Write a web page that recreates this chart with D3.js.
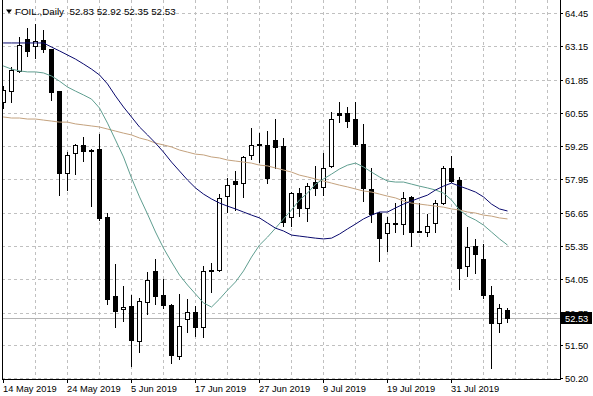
<!DOCTYPE html>
<html>
<head>
<meta charset="utf-8">
<script src="https://cdn.jsdelivr.net/npm/d3@7"></script>
<style>
	body { margin: 0; background: #fff; }
	svg { display: block; }
</style>
</head>
<body>
<div id="chart"></div>
<script>
// FOIL daily candles, 14 May - 9 Aug 2019, with three moving averages

const symbol = 'FOIL.';
const period = 'Daily';

const dates = [
	'2019-05-14', '2019-05-15', '2019-05-16', '2019-05-17', '2019-05-20', '2019-05-21', '2019-05-22', '2019-05-23',
	'2019-05-24', '2019-05-27', '2019-05-28', '2019-05-29', '2019-05-30', '2019-05-31', '2019-06-03', '2019-06-04',
	'2019-06-05', '2019-06-06', '2019-06-07', '2019-06-10', '2019-06-11', '2019-06-12', '2019-06-13', '2019-06-14',
	'2019-06-17', '2019-06-18', '2019-06-19', '2019-06-20', '2019-06-21', '2019-06-24', '2019-06-25', '2019-06-26',
	'2019-06-27', '2019-06-28', '2019-07-01', '2019-07-02', '2019-07-03', '2019-07-04', '2019-07-05', '2019-07-08',
	'2019-07-09', '2019-07-10', '2019-07-11', '2019-07-12', '2019-07-15', '2019-07-16', '2019-07-17', '2019-07-18',
	'2019-07-19', '2019-07-22', '2019-07-23', '2019-07-24', '2019-07-25', '2019-07-26', '2019-07-29', '2019-07-30',
	'2019-07-31', '2019-08-01', '2019-08-02', '2019-08-05', '2019-08-06', '2019-08-07', '2019-08-08', '2019-08-09'
];

const opens = [
	60.94, 61.37, 62.15, 63.40, 63.16, 63.36, 63.01, 61.37, 58.20, 58.98, 59.26, 59.10, 59.14, 56.48, 53.40, 52.89,
	53.01, 51.64, 53.13, 54.34, 53.44, 53.05, 51.02, 52.50, 52.74, 52.19, 54.34, 54.38, 57.27, 57.89, 57.81, 58.90,
	59.33, 59.26, 59.49, 59.22, 56.48, 57.42, 56.80, 57.85, 57.62, 58.44, 60.51, 60.51, 60.31, 59.30, 57.54, 56.64,
	55.86, 56.25, 56.21, 57.23, 55.90, 55.90, 56.25, 57.03, 58.36, 57.93, 54.57, 55.35, 54.84, 53.44, 52.31, 52.83
];
const highs = [
	61.60, 62.34, 63.51, 63.86, 64.02, 63.79, 63.04, 61.40, 59.02, 59.33, 59.61, 59.14, 59.73, 56.64, 54.65, 53.79,
	53.44, 53.32, 54.34, 54.84, 54.06, 53.09, 53.48, 53.28, 53.01, 54.57, 54.69, 57.38, 58.01, 58.28, 58.87, 59.96,
	59.76, 59.84, 60.31, 59.57, 57.46, 57.62, 57.81, 58.48, 58.98, 60.58, 60.97, 60.78, 60.97, 60.12, 58.40, 56.68,
	56.48, 57.03, 57.46, 57.30, 57.03, 56.60, 57.15, 58.48, 58.87, 58.05, 56.09, 55.63, 55.43, 53.79, 53.09, 52.92
];
const lows = [
	60.70, 60.94, 62.12, 62.73, 62.65, 62.89, 61.01, 57.30, 57.50, 58.12, 58.63, 56.87, 56.33, 53.05, 52.15, 52.38,
	50.63, 51.17, 52.66, 53.05, 52.89, 50.74, 50.90, 51.96, 51.80, 51.76, 53.52, 54.34, 56.64, 56.72, 57.23, 58.71,
	58.59, 57.77, 58.36, 56.09, 56.09, 56.48, 56.29, 57.30, 57.30, 58.40, 60.15, 59.96, 59.22, 57.07, 56.25, 54.73,
	55.12, 55.86, 55.78, 55.31, 55.86, 55.70, 55.86, 56.95, 57.81, 53.63, 54.14, 54.26, 53.28, 50.55, 51.96, 52.35
];
const closes = [
	61.43, 62.19, 63.20, 62.93, 63.32, 63.04, 61.33, 58.20, 58.90, 59.26, 59.06, 59.08, 56.41, 53.28, 52.81, 52.97,
	51.68, 53.20, 54.02, 53.40, 53.05, 51.06, 52.23, 52.77, 52.19, 54.34, 54.41, 57.19, 57.70, 57.77, 58.79, 59.26,
	59.26, 57.97, 59.18, 56.29, 57.42, 56.80, 57.66, 57.58, 58.36, 60.31, 60.43, 60.23, 59.33, 57.58, 56.60, 55.63,
	56.25, 56.21, 57.19, 55.90, 55.92, 56.13, 57.03, 58.36, 57.89, 54.49, 55.31, 55.04, 53.44, 52.34, 52.93, 52.53
];

// moving averages; first value belongs to the bar before 14 May (off the left edge)
const maNavy = [
	63.28, 63.28, 63.28, 63.28, 63.28, 63.28, 63.28, 63.12, 62.97, 62.81, 62.65, 62.46, 62.26, 62.03, 61.68, 61.21,
	60.78, 60.39, 60.00, 59.69, 59.37, 59.02, 58.63, 58.28, 57.93, 57.62, 57.38, 57.19, 57.03, 56.91, 56.80, 56.68,
	56.56, 56.45, 56.25, 56.05, 55.94, 55.78, 55.74, 55.70, 55.66, 55.63, 55.66, 55.82, 56.02, 56.21, 56.41, 56.56,
	56.68, 56.68, 56.84, 56.99, 57.11, 57.23, 57.34, 57.54, 57.69, 57.81, 57.69, 57.58, 57.46, 57.27, 56.99, 56.80,
	56.72
];
const maTeal = [
	62.46, 62.38, 62.26, 62.19, 62.15, 62.15, 62.11, 61.99, 61.79, 61.56, 61.40, 61.25, 61.09, 60.74, 60.15, 59.49,
	58.83, 58.01, 57.27, 56.60, 55.90, 55.27, 54.73, 54.22, 53.83, 53.48, 53.13, 52.97, 53.28, 53.63, 53.95, 54.38,
	54.92, 55.39, 55.70, 56.05, 56.41, 56.76, 57.15, 57.42, 57.77, 57.97, 58.16, 58.36, 58.51, 58.59, 58.44, 58.24,
	58.05, 57.89, 57.85, 57.85, 57.77, 57.69, 57.62, 57.54, 57.42, 57.15, 56.76, 56.52, 56.37, 56.17, 55.90, 55.63,
	55.39
];
const maTan = [
	60.39, 60.39, 60.35, 60.35, 60.31, 60.31, 60.27, 60.23, 60.19, 60.19, 60.12, 60.08, 60.04, 60.00, 59.92, 59.84,
	59.76, 59.69, 59.57, 59.49, 59.37, 59.30, 59.22, 59.10, 59.02, 58.94, 58.91, 58.83, 58.79, 58.71, 58.67, 58.63,
	58.59, 58.51, 58.48, 58.40, 58.32, 58.24, 58.12, 58.05, 57.97, 57.89, 57.81, 57.73, 57.66, 57.58, 57.50, 57.46,
	57.38, 57.30, 57.23, 57.11, 57.03, 56.99, 56.95, 56.91, 56.87, 56.80, 56.76, 56.68, 56.64, 56.56, 56.52, 56.45,
	56.41
];

const priceTicks = [64.45, 63.15, 61.85, 60.55, 59.25, 57.95, 56.65, 55.35, 54.05, 52.75, 51.50, 50.20];

(function() {
	'use strict';

	const width = 593;
	const height = 396;
	const plot = { left: 2, right: 560, top: 0, bottom: 379 };
	const slots = 70; // bars that fit in the plot, incl. the empty space on the right
	const font = "'Liberation Sans', Arial, sans-serif";

	const parse = d3.timeParse('%Y-%m-%d');
	const fmtDate = d3.timeFormat('%-d %b %Y');

	const bars = dates.map((d, i) => ({
		i,
		date: parse(d),
		o: opens[i],
		h: highs[i],
		l: lows[i],
		c: closes[i]
	}));

	const x = d3.scaleLinear().domain([0, slots - 1]).range([3.5, 3.5 + 8 * (slots - 1)]);
	const y = d3.scaleLinear().domain([50.20, 64.45]).range([378, 13]);
	const py = v => Math.round(y(v)) + 0.5;

	const svg = d3.select('#chart').append('svg')
		.attr('width', width)
		.attr('height', height)
		.style('font-family', font);

	svg.append('defs').append('clipPath')
		.attr('id', 'plot-clip')
		.append('rect')
		.attr('x', plot.left + 1)
		.attr('y', plot.top)
		.attr('width', plot.right - plot.left - 1)
		.attr('height', plot.bottom - plot.top);

	// Grid
	const grid = svg.append('g')
		.attr('stroke', '#c0c0c0')
		.attr('stroke-dasharray', '3,3')
		.attr('shape-rendering', 'crispEdges');

	grid.selectAll('.hgrid')
		.data(priceTicks)
		.enter()
		.append('line')
		.attr('x1', plot.left)
		.attr('x2', plot.right)
		.attr('y1', d => py(d))
		.attr('y2', d => py(d));

	grid.selectAll('.vgrid')
		.data(d3.range(4, slots, 4))
		.enter()
		.append('line')
		.attr('x1', d => x(d))
		.attr('x2', d => x(d))
		.attr('y1', plot.top)
		.attr('y2', plot.bottom);

	const g = svg.append('g').attr('clip-path', 'url(#plot-clip)');

	// Last price line
	const last = bars[bars.length - 1];
	g.append('line')
		.attr('x1', plot.left)
		.attr('x2', plot.right)
		.attr('y1', py(last.c))
		.attr('y2', py(last.c))
		.attr('stroke', '#b4b4b4')
		.attr('shape-rendering', 'crispEdges');

	// Candles
	const candle = g.selectAll('.candle')
		.data(bars)
		.enter()
		.append('g')
		.attr('class', 'candle')
		.attr('shape-rendering', 'crispEdges');

	candle.append('line')
		.attr('x1', d => x(d.i))
		.attr('x2', d => x(d.i))
		.attr('y1', d => y(d.h))
		.attr('y2', d => y(d.l))
		.attr('stroke', '#000');

	candle.append('rect')
		.attr('x', d => x(d.i) - 2)
		.attr('width', 4)
		.attr('y', d => y(Math.max(d.o, d.c)))
		.attr('height', d => Math.max(1, Math.abs(y(d.o) - y(d.c))))
		.attr('fill', d => d.c >= d.o ? '#fff' : '#000')
		.attr('stroke', '#000');

	// Moving averages (index -1 = bar before the first one)
	const line = d3.line()
		.x((d, i) => x(i - 1))
		.y(d => y(d));

	[
		{ values: maTan, color: '#c4a27e' },
		{ values: maTeal, color: '#5f9e90' },
		{ values: maNavy, color: '#0a0a6e' }
	].forEach(({ values, color }) => {
		g.append('path')
			.attr('d', line(values))
			.attr('fill', 'none')
			.attr('stroke', color)
			.attr('stroke-width', 1);
	});

	// Frame
	svg.append('path')
		.attr('d', `M${plot.left + 0.5},${plot.top}V${plot.bottom + 0.5}H${plot.right + 0.5}V${plot.top}`)
		.attr('fill', 'none')
		.attr('stroke', '#000')
		.attr('shape-rendering', 'crispEdges');

	// Price axis
	const yAxis = svg.append('g');

	yAxis.selectAll('.ytick')
		.data(priceTicks)
		.enter()
		.append('line')
		.attr('x1', plot.right)
		.attr('x2', plot.right + 3)
		.attr('y1', d => py(d))
		.attr('y2', d => py(d))
		.attr('stroke', '#000')
		.attr('shape-rendering', 'crispEdges');

	yAxis.selectAll('.ylabel')
		.data(priceTicks)
		.enter()
		.append('text')
		.attr('x', plot.right + 5)
		.attr('y', d => py(d))
		.attr('dy', '0.35em')
		.style('font-size', '9.3px')
		.style('fill', '#000')
		.text(d => d.toFixed(2));

	// Last price tag
	yAxis.append('rect')
		.attr('x', plot.right + 1)
		.attr('y', Math.round(y(last.c)) - 6)
		.attr('width', 31)
		.attr('height', 12)
		.attr('fill', '#000');

	yAxis.append('text')
		.attr('x', plot.right + 5)
		.attr('y', py(last.c))
		.attr('dy', '0.35em')
		.style('font-size', '9.3px')
		.style('fill', '#fff')
		.text(last.c.toFixed(2));

	// Time axis
	const dateTicks = bars.filter(d => d.i % 8 === 0);
	const xAxis = svg.append('g');

	xAxis.selectAll('.xtick')
		.data(dateTicks)
		.enter()
		.append('line')
		.attr('x1', d => x(d.i))
		.attr('x2', d => x(d.i))
		.attr('y1', plot.bottom)
		.attr('y2', plot.bottom + 4)
		.attr('stroke', '#000')
		.attr('shape-rendering', 'crispEdges');

	xAxis.selectAll('.xlabel')
		.data(dateTicks)
		.enter()
		.append('text')
		.attr('x', d => x(d.i) - 0.5)
		.attr('y', 392)
		.style('font-size', '9.3px')
		.style('fill', '#000')
		.text(d => fmtDate(d.date));

	// Title
	svg.append('path')
		.attr('d', 'M6,9.5H12L9,13.5Z')
		.attr('fill', '#000');

	svg.append('text')
		.attr('x', 15)
		.attr('y', 15)
		.style('font-size', '9.8px')
		.style('white-space', 'pre')
		.style('fill', '#000')
		.text(`${symbol},${period}  ${[last.o, last.h, last.l, last.c].map(v => v.toFixed(2)).join(' ')}`);
})();
</script>
</body>
</html>
